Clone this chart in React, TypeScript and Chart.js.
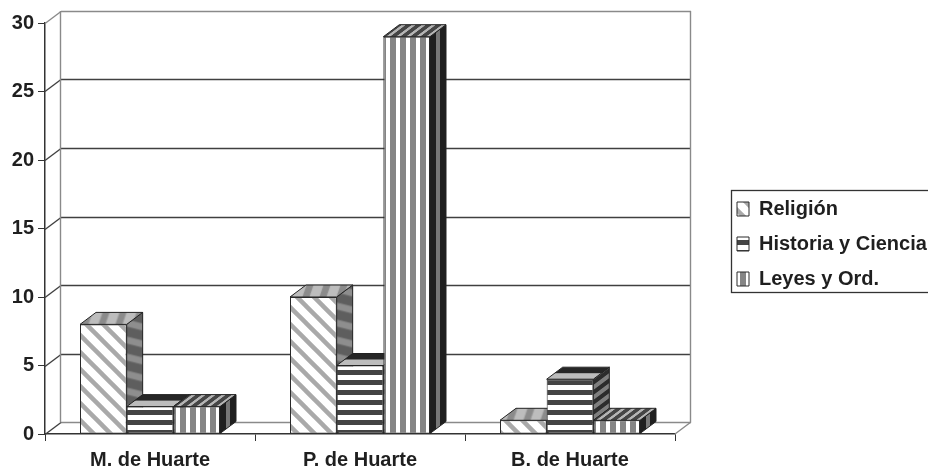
import React, { useEffect, useRef } from "react";
import { Chart, registerables } from "chart.js";

Chart.register(...registerables);

// Book counts per library and subject.
const categories = ["M. de Huarte", "P. de Huarte", "B. de Huarte"];
const religion = [8, 10, 1];
const historia = [2, 5, 4];
const leyes = [2, 29, 1];
const seriesNames = ["Religión", "Historia y Ciencia", "Leyes y Ord."];

// Depth of the pseudo-3D box, in pixels.
const DEPTH_X = 16;
const DEPTH_Y = 12;

const AXIS = "#333333";
const WALL = "#8a8a8a";
const GRID = "#404040";
const INK = "#1f1f1f";
const FONT = "'Liberation Sans', Arial, sans-serif";

type StripeKind = "diagonal" | "horizontal" | "vertical";

// Builds a repeating stripe fill.
function stripes(kind: StripeKind, size: number, band: number, bg: string, fg: string): CanvasPattern {
  const tile = document.createElement("canvas");
  tile.width = size;
  tile.height = size;
  const c = tile.getContext("2d")!;
  c.fillStyle = bg;
  c.fillRect(0, 0, size, size);
  c.fillStyle = fg;
  if (kind === "horizontal") {
    c.fillRect(0, 0, size, band);
  } else if (kind === "vertical") {
    c.fillRect(0, 0, band, size);
  } else {
    c.strokeStyle = fg;
    c.lineWidth = band;
    for (const shift of [-size, 0, size]) {
      c.beginPath();
      c.moveTo(shift - 2, -2);
      c.lineTo(shift + size + 2, size + 2);
      c.stroke();
    }
  }
  return c.createPattern(tile, "repeat")!;
}

export default function App() {
  const ref = useRef<HTMLCanvasElement>(null);

  useEffect(() => {
    const canvas = ref.current!;

    const front = [
      stripes("diagonal", 17, 4.5, "#ffffff", "#a9a9a9"),
      stripes("horizontal", 10, 5, "#ffffff", "#444444"),
      stripes("vertical", 10, 6, "#ffffff", "#858585"),
    ];
    const side = [
      stripes("diagonal", 17, 5, "#5e5e5e", "#8e8e8e"),
      stripes("horizontal", 10, 5, "#7f7f7f", "#2c2c2c"),
      stripes("vertical", 10, 6, "#777777", "#1f1f1f"),
    ];
    const top = [
      stripes("diagonal", 17, 5, "#bdbdbd", "#8b8b8b"),
      stripes("horizontal", 12, 6, "#bcbcbc", "#262626"),
      stripes("vertical", 10, 6, "#b5b5b5", "#454545"),
    ];

    // Back walls, floor and gridlines, set off from the front axes by the box depth.
    const backdrop = {
      id: "backdrop",
      beforeDatasetsDraw(chart: Chart) {
        const { ctx, chartArea, scales } = chart;
        const { left, right, bottom } = chartArea;
        const y = scales.y;
        ctx.save();
        ctx.lineWidth = 1.4;
        const maxValue = y.max;
        for (const tick of y.ticks) {
          const py = Math.round(y.getPixelForValue(tick.value)) + 0.5;
          const edge = tick.value === 0 || tick.value === maxValue;
          ctx.strokeStyle = edge ? WALL : GRID;
          ctx.beginPath();
          ctx.moveTo(left + DEPTH_X, py - DEPTH_Y);
          ctx.lineTo(right + DEPTH_X, py - DEPTH_Y);
          ctx.stroke();
          ctx.strokeStyle = tick.value === maxValue ? WALL : GRID;
          ctx.beginPath();
          ctx.moveTo(left, py);
          ctx.lineTo(left + DEPTH_X, py - DEPTH_Y);
          ctx.stroke();
        }
        const topY = y.getPixelForValue(maxValue) - DEPTH_Y;
        ctx.strokeStyle = WALL;
        ctx.beginPath();
        ctx.moveTo(left + DEPTH_X - 0.5, topY);
        ctx.lineTo(left + DEPTH_X - 0.5, bottom - DEPTH_Y);
        ctx.moveTo(right + DEPTH_X - 0.5, topY);
        ctx.lineTo(right + DEPTH_X - 0.5, bottom - DEPTH_Y);
        ctx.moveTo(right, bottom);
        ctx.lineTo(right + DEPTH_X, bottom - DEPTH_Y);
        ctx.stroke();
        ctx.restore();
      },
    };

    // Top and side faces of a dataset's bars; the front face is the bar element itself.
    const drawFaces = (chart: Chart, index: number) => {
      const { ctx } = chart;
      for (const bar of chart.getDatasetMeta(index).data as any[]) {
        const { x, y, base, width } = bar.getProps(["x", "y", "base", "width"], true);
        const x0 = x - width / 2;
        const x1 = x + width / 2;
        ctx.save();
        ctx.strokeStyle = "#222222";
        ctx.lineWidth = 1;

        ctx.save();
        ctx.translate(x1, 0);
        ctx.transform(1, -DEPTH_Y / DEPTH_X, 0, 1, 0, 0);
        ctx.beginPath();
        ctx.rect(0, y, DEPTH_X, base - y);
        ctx.fillStyle = side[index];
        ctx.fill();
        ctx.restore();
        ctx.stroke();

        ctx.save();
        ctx.translate(0, y);
        ctx.transform(1, 0, -DEPTH_X / DEPTH_Y, 1, 0, 0);
        ctx.beginPath();
        ctx.rect(x0, -DEPTH_Y, width, DEPTH_Y);
        ctx.fillStyle = top[index];
        ctx.fill();
        ctx.restore();
        ctx.stroke();
        ctx.restore();
      }
    };

    // Paints series left to right so each box overlaps the side of the one before it.
    const boxes = {
      id: "boxes",
      beforeDatasetDraw() {
        return false;
      },
      afterDatasetsDraw(chart: Chart) {
        chart.data.datasets.forEach((_, i) => {
          drawFaces(chart, i);
          (chart.getDatasetMeta(i).controller as any).draw();
        });
      },
    };

    // Places the legend in the right margin and outlines it.
    const legendFrame = {
      id: "legendFrame",
      afterLayout(chart: Chart) {
        const legend = chart.legend as any;
        legend.left = 722;
        legend.right = 940;
        legend.top = 184;
        legend.bottom = 360;
      },
      afterDraw(chart: Chart) {
        const { ctx } = chart;
        ctx.save();
        ctx.strokeStyle = AXIS;
        ctx.lineWidth = 1.3;
        ctx.strokeRect(731.5, 190.5, 210, 102);
        ctx.restore();
      },
    };

    const makeSet = (label: string, data: number[], i: number) => ({
      label,
      data,
      backgroundColor: front[i],
      borderColor: "#2a2a2a",
      borderWidth: 1,
      borderSkipped: false,
      categoryPercentage: 2 / 3,
      barPercentage: 1,
    });

    const tickFont = { family: FONT, size: 20, weight: "bold" as const };

    const chart = new Chart(canvas, {
      type: "bar",
      data: {
        labels: categories,
        datasets: [
          makeSet(seriesNames[0], religion, 0),
          makeSet(seriesNames[1], historia, 1),
          makeSet(seriesNames[2], leyes, 2),
        ] as any,
      },
      options: {
        responsive: false,
        animation: false,
        events: [],
        layout: { autoPadding: false, padding: { left: 0, top: 23, right: 253, bottom: 0 } },
        plugins: {
          title: { display: false },
          tooltip: { enabled: false },
          legend: {
            display: true,
            position: "chartArea",
            align: "start",
            labels: {
              boxWidth: 12,
              boxHeight: 14,
              padding: 15,
              color: INK,
              font: { family: FONT, size: 20, weight: "bold" },
            },
          },
        },
        scales: {
          x: {
            afterFit: (s: any) => {
              s.height = 34;
            },
            grid: { drawOnChartArea: false, tickLength: 7, color: AXIS, offset: true },
            border: { color: AXIS, width: 1.5 },
            ticks: { color: INK, font: tickFont, padding: 7, maxRotation: 0, autoSkip: false },
          },
          y: {
            min: 0,
            max: 30,
            afterFit: (s: any) => {
              s.width = 45;
            },
            grid: { drawOnChartArea: false, tickLength: 7, color: AXIS },
            border: { color: AXIS, width: 1.5 },
            ticks: { stepSize: 5, color: INK, font: tickFont, padding: 4 },
          },
        },
      },
      plugins: [backdrop, boxes, legendFrame],
    } as any);

    return () => chart.destroy();
  }, []);

  return (
    <canvas
      ref={ref}
      width={928}
      height={468}
      style={{ position: "absolute", left: 0, top: 0, display: "block" }}
    />
  );
}
